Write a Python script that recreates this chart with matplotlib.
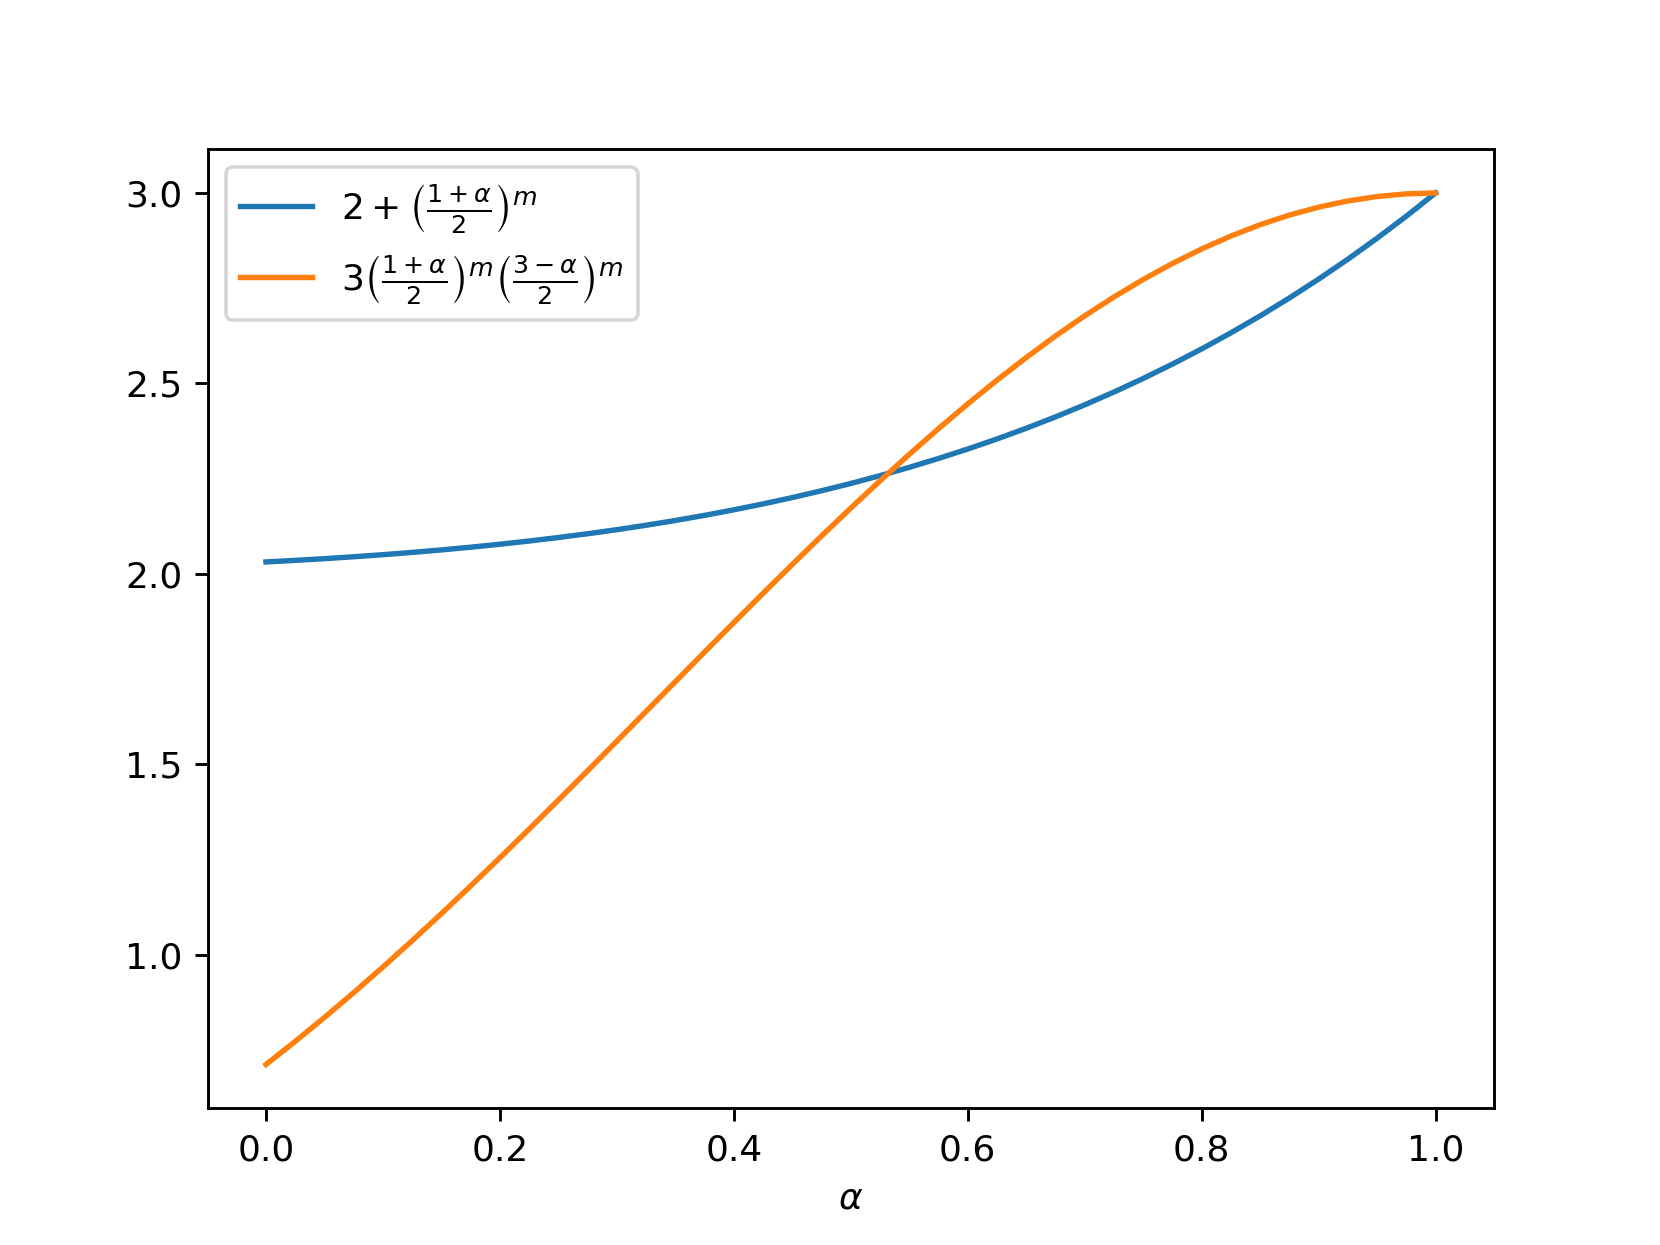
import numpy as np
import matplotlib
matplotlib.use("Agg")
import matplotlib.pyplot as plt

# values, every 0.025 in alpha
alpha = [0.0, 0.025, 0.05, 0.075, 0.1, 0.125, 0.15, 0.175, 0.2, 0.225,
         0.25, 0.275, 0.3, 0.325, 0.35, 0.375, 0.4, 0.425, 0.45, 0.475,
         0.5, 0.525, 0.55, 0.575, 0.6, 0.625, 0.65, 0.675, 0.7, 0.725,
         0.75, 0.775, 0.8, 0.825, 0.85, 0.875, 0.9, 0.925, 0.95, 0.975, 1.0]
blue_vals = [2.0313, 2.0354, 2.0399, 2.0449, 2.0503, 2.0563, 2.0629, 2.0700,
             2.0778, 2.0862, 2.0954, 2.1053, 2.1160, 2.1276, 2.1401, 2.1536,
             2.1681, 2.1836, 2.2003, 2.2182, 2.2373, 2.2578, 2.2796, 2.3029,
             2.3277, 2.3541, 2.3822, 2.4120, 2.4437, 2.4773, 2.5129, 2.5506,
             2.5905, 2.6327, 2.6772, 2.7242, 2.7738, 2.8260, 2.8811, 2.9390,
             3.0]
orange_vals = [0.7119, 0.7725, 0.8354, 0.9005, 0.9678, 1.0370, 1.1080, 1.1806,
               1.2546, 1.3299, 1.4062, 1.4832, 1.5608, 1.6388, 1.7168, 1.7947,
               1.8721, 1.9489, 2.0247, 2.0994, 2.1726, 2.2441, 2.3137, 2.3811,
               2.4461, 2.5085, 2.5679, 2.6243, 2.6774, 2.7269, 2.7728, 2.8149,
               2.8530, 2.8869, 2.9166, 2.9419, 2.9627, 2.9790, 2.9906, 2.9977,
               3.0]

label_blue = r'$2+\left(\frac{1+\alpha}{2}\right)^m$'
label_orange = r'$3\left(\frac{1+\alpha}{2}\right)^m\left(\frac{3-\alpha}{2}\right)^m$'

fig = plt.figure(figsize=(6.4, 4.8), dpi=259.375)
plt.plot(alpha, blue_vals, label=label_blue)
plt.plot(alpha, orange_vals, label=label_orange)
plt.xlabel(r'$\alpha$')
plt.legend(loc='upper left')

plt.savefig('out.png', dpi=259.375)
plt.close()
